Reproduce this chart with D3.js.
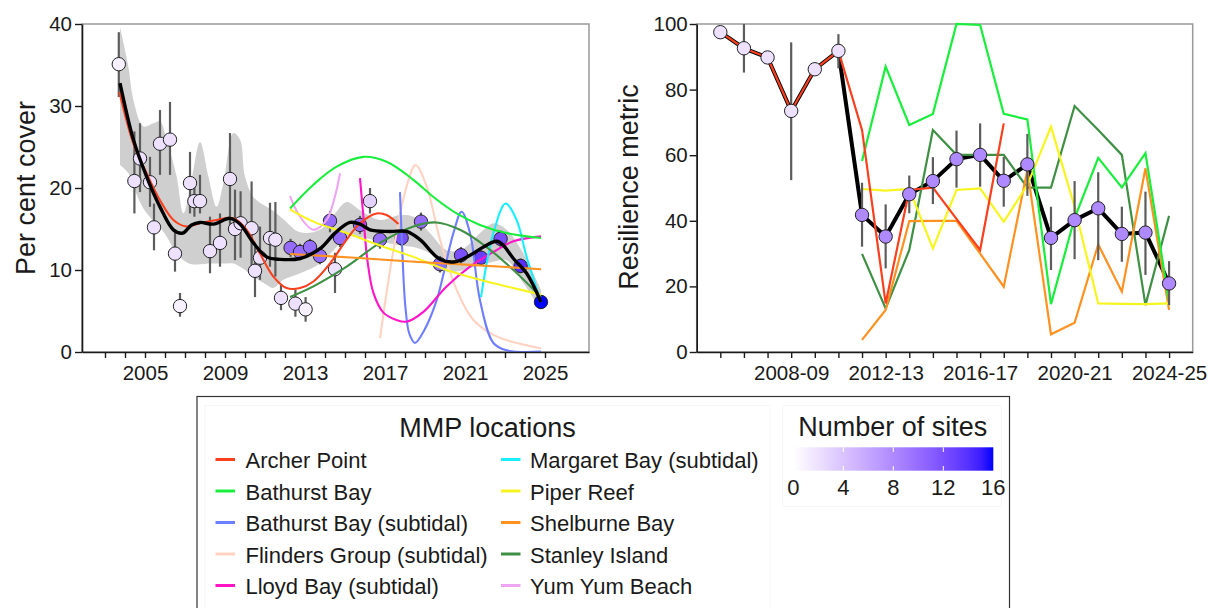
<!DOCTYPE html>
<html>
<head>
<meta charset="utf-8">
<script src="https://cdn.jsdelivr.net/npm/d3@7"></script>
<style>
  body { margin: 0; background: #ffffff; }
  svg text { font-family: "Liberation Sans", Arial, sans-serif; fill: #1a1a1a; }
</style>
</head>
<body>
<svg id="chart" width="1211" height="608"></svg>
<script>
// ---------------- Per cent cover (left panel) ----------------
const surveyYear = [2003.69, 2004.47, 2004.75, 2005.25, 2005.45, 2005.75, 2006.25, 2006.5, 2006.75, 2007.25,
  2007.47, 2007.75, 2008.25, 2008.75, 2009.25, 2009.5, 2009.78, 2010.33, 2010.5, 2010.75,
  2011.25, 2011.52, 2011.8, 2012.28, 2012.52, 2012.75, 2013.03, 2013.25, 2013.75, 2014.25,
  2014.5, 2014.75, 2015.75, 2016.25, 2016.75, 2017.83, 2018.8, 2019.75, 2020.8, 2021.8,
  2022.78, 2023.78, 2024.8];
const coverMean = [35.1, 20.85, 23.6, 20.7, 15.2, 25.4, 25.9, 12.0, 5.6, 20.6,
  18.4, 18.4, 12.3, 13.3, 21.1, 15.0, 15.7, 15.1, 9.9, 11.5,
  13.9, 13.7, 6.6, 12.7, 5.9, 12.2, 5.2, 12.8, 11.7, 16.0,
  10.1, 13.9, 15.5, 18.4, 13.7, 13.9, 15.9, 10.7, 11.8, 11.5,
  13.8, 10.5, 6.1];
const coverLo = [31.1, 16.9, 19.5, 17.7, 12.4, 21.6, 21.6, 9.8, 4.3, 16.9,
  16.5, 16.9, 9.6, 10.4, 14.5, 11.2, 11.5, 10.4, 6.7, 8.8,
  10.4, 9.2, 5.1, 11.6, 4.3, 11.2, 3.7, 11.8, 10.7, 14.6,
  7.2, 12.8, 14.4, 16.9, 12.6, 12.9, 14.8, 9.7, 10.8, 10.6,
  12.8, 9.6, 5.4];
const coverHi = [39.0, 26.9, 27.9, 23.8, 18.1, 29.5, 30.5, 14.5, 7.2, 24.4,
  20.5, 21.6, 16.5, 16.9, 26.7, 19.8, 19.6, 20.8, 12.8, 15.3,
  18.2, 18.3, 8.2, 13.8, 7.6, 13.2, 6.7, 13.8, 12.7, 17.2,
  12.1, 15.0, 16.6, 20.0, 14.8, 14.9, 17.0, 11.7, 12.8, 12.4,
  14.8, 11.4, 6.8];
const coverSites = [1, 2, 2, 2, 2, 2, 2, 2, 1, 2,
  2, 2, 2, 2, 2, 2, 2, 2, 2, 2,
  2, 2, 2, 10, 2, 10, 1, 10, 10, 10,
  2, 10, 10, 3, 10, 12, 10, 10, 12, 13,
  12, 14, 16];

// Overall smoothed trend [year, cover]
const overallTrend = [[2003.75, 32.8], [2004.42, 25.9], [2005.08, 21.4], [2005.75, 17.7], [2006.42, 14.9],
  [2006.88, 14.5], [2007.33, 15.5], [2007.75, 15.8], [2008.42, 15.6], [2009.25, 16.3], [2009.75, 15.6],
  [2010.42, 13.3], [2011.08, 11.6], [2011.75, 11.3], [2012.75, 11.4], [2013.75, 12.6], [2014.5, 14.5],
  [2015.25, 15.8], [2015.75, 15.6], [2016.25, 14.9], [2017.25, 14.7], [2018.08, 14.7], [2018.75, 13.7],
  [2019.75, 11.3], [2020.5, 11.0], [2021.25, 11.8], [2021.92, 12.8], [2022.58, 13.5], [2022.92, 13.0],
  [2023.42, 11.4], [2024.08, 9.6], [2024.8, 6.1]];
// Confidence band of the overall trend [year, lower, upper]
const overallBand = [[2003.75, 22.8, 39.6], [2004.17, 21.8, 34.8], [2004.42, 20.2, 30.7], [2004.92, 17.5, 27.5],
  [2005.42, 16.0, 27.9], [2005.75, 15.2, 28.1], [2006.08, 14.1, 25.9], [2006.58, 12.0, 21.4],
  [2006.92, 11.2, 16.9], [2007.33, 10.7, 21.0], [2007.75, 10.7, 25.6], [2008.17, 10.8, 21.4],
  [2008.58, 10.8, 17.7], [2008.92, 10.8, 20.6], [2009.42, 10.8, 26.7], [2009.75, 10.4, 25.9],
  [2010.0, 10.0, 21.4], [2010.42, 9.2, 18.9], [2011.08, 8.2, 17.7], [2011.42, 7.8, 17.2],
  [2011.92, 8.8, 16.2], [2012.75, 9.6, 14.6], [2013.75, 10.8, 14.9], [2014.5, 12.6, 16.9],
  [2015.08, 14.1, 18.3], [2015.75, 14.0, 17.3], [2016.75, 13.5, 16.1], [2017.75, 13.0, 16.7],
  [2018.42, 12.8, 16.5], [2019.25, 12.0, 14.5], [2020.08, 9.8, 12.4], [2020.92, 10.0, 12.6],
  [2021.75, 10.6, 14.5], [2022.42, 11.0, 15.7], [2023.08, 11.2, 14.9], [2023.92, 8.4, 12.0],
  [2024.8, 5.1, 7.6]];

// Location names and colours (legend order)
const locationNames = ["Archer Point", "Bathurst Bay", "Bathurst Bay (subtidal)", "Flinders Group (subtidal)",
  "Lloyd Bay (subtidal)", "Margaret Bay (subtidal)", "Piper Reef", "Shelburne Bay", "Stanley Island", "Yum Yum Beach"];
const locationColours = ["#f9401e", "#1aee3c", "#6f7dff", "#ffd2c2", "#ff14c8", "#1aeeff", "#f7f520", "#ff9120", "#3f9045", "#eea6f2"];

// Per-location smoothed cover trends [year, cover]
const trendArcher = [[2003.72, 31.7], [2004.42, 25.4], [2005.08, 21.8], [2005.75, 18.5], [2006.42, 16.1], [2007.08, 15.3],
  [2007.75, 15.7], [2008.58, 16.1], [2009.42, 16.3], [2010.08, 14.9], [2010.75, 12.0], [2011.42, 9.2], [2012.08, 7.8],
  [2012.75, 7.8], [2013.42, 8.6], [2014.25, 10.8], [2015.08, 13.7], [2015.75, 15.7], [2016.58, 16.9], [2017.08, 16.7], [2017.67, 15.6]];
const trendBathurst = [[2012.25, 17.5], [2013.42, 20.4], [2014.58, 22.6], [2015.92, 23.8], [2017.08, 23.2], [2018.42, 21.0],
  [2019.42, 18.9], [2020.58, 16.9], [2021.75, 15.5], [2023.08, 14.5], [2024.8, 13.9]];
const trendBathurstSub = [[2017.75, 19.5], [2017.87, 12.0], [2018.02, 5.5], [2018.22, 2.2], [2018.5, 1.1], [2018.95, 2.6],
  [2019.58, 6.3], [2020.42, 14.5], [2020.83, 17.1], [2021.25, 14.5], [2021.75, 6.3], [2022.42, 1.1], [2023.08, 0.2], [2024.8, 0.05]];
const trendFlinders = [[2016.75, 1.7], [2017.42, 12.4], [2018.08, 20.2], [2018.53, 22.8], [2019.08, 20.2], [2019.75, 13.7],
  [2020.58, 7.6], [2021.42, 3.9], [2022.58, 1.9], [2024.8, 0.45]];
const trendLloyd = [[2015.75, 21.2], [2015.92, 16.5], [2016.12, 11.2], [2016.42, 7.2], [2016.92, 4.8], [2017.58, 3.9],
  [2018.08, 3.7], [2018.92, 4.9], [2020.08, 8.0], [2021.25, 10.4], [2022.42, 12.2], [2023.42, 13.5], [2024.8, 14.1]];
const trendMargaret = [[2021.8, 6.7], [2022.42, 14.5], [2023.03, 18.1], [2023.58, 16.1], [2024.08, 11.6], [2024.8, 6.1]];
const trendPiper = [[2012.25, 17.4], [2013.42, 15.9], [2015.08, 14.5], [2016.75, 13.0], [2018.42, 11.6], [2020.08, 10.0],
  [2021.75, 8.8], [2023.42, 7.8], [2024.8, 7.0]];
const trendShelburne = [[2012.25, 11.95], [2015.5, 11.5], [2018.5, 11.0], [2021.5, 10.6], [2024.8, 10.1]];
const trendStanley = [[2012.25, 6.7], [2013.42, 8.0], [2015.08, 10.4], [2016.75, 13.3], [2018.42, 15.3], [2019.58, 15.8],
  [2020.75, 14.9], [2022.08, 12.8], [2023.42, 10.0], [2024.8, 6.7]];
const trendYumYum = [[2012.25, 19.0], [2012.75, 16.5], [2013.42, 14.9], [2014.08, 16.1], [2014.5, 19.0], [2014.75, 21.8]];

// ---------------- Resilience metric (right panel) ----------------
const financialYears = ["2005-06", "2006-07", "2007-08", "2008-09", "2009-10", "2010-11", "2011-12", "2012-13",
  "2013-14", "2014-15", "2015-16", "2016-17", "2017-18", "2018-19", "2019-20", "2020-21", "2021-22", "2022-23",
  "2023-24", "2024-25"];
const yearLabels = ["2008-09", "2012-13", "2016-17", "2020-21", "2024-25"];
const resMean = [97.5, 92.6, 89.8, 73.5, 86.2, 91.8, 41.8, 35.2, 48.1, 52.1, 58.8, 60.1, 52.2, 57.2, 34.8, 40.2, 43.8, 36.0, 36.4, 20.9];
const resLo = [95.6, 85.2, null, 52.4, null, 86.5, 32.1, 25.5, 42.3, 45.1, 50.1, 50.4, 44.3, 47.6, 25.0, 28.3, 28.0, 27.5, 23.5, 14.3];
const resHi = [99.3, 100, null, 94.4, null, 96.9, 51.6, 45.0, 53.8, 59.4, 67.5, 69.7, 59.5, 66.5, 44.3, 52.1, 54.8, 44.3, 48.9, 27.7];
const resSites = [2, 2, 2, 2, 2, 2, 8, 8, 8, 8, 8, 8, 8, 8, 8, 8, 8, 8, 8, 8];

const resArcher = [97.5, 92.6, 89.8, 73.5, 86.2, 91.8, 67.7, 14.8, 49.4, 50.1, 40.6, 31.1, 69.7, null, null, null, null, null, null, null];
const resBathurst = [null, null, null, null, null, null, 58.2, 87.0, 69.2, 72.6, 100, 99.7, 72.6, 70.9, 14.6, 40.8, 59.2, 50.2, 60.6, 15.3];
const resPiper = [null, null, null, null, null, null, 49.7, 49.2, 49.7, 31.6, 49.4, 49.9, 39.7, 50.9, 68.7, 44.3, 14.8, 14.7, 14.6, 14.8];
const resShelburne = [null, null, null, null, null, null, 3.7, 12.8, 39.9, 40.0, 40.0, 30.0, 19.9, 55.5, 5.4, 8.9, 32.8, 18.4, 56.0, 12.8];
const resStanley = [null, null, null, null, null, null, 29.9, 13.3, 31.1, 67.7, 60.1, 60.1, 60.1, 50.1, 50.1, 75.0, 67.7, 60.1, 14.3, 41.5];

// ---------------- Drawing ----------------
const svg = d3.select("#chart");
const ink = "#1a1a1a";
const siteColour = d3.scaleLinear().domain([0, 16]).range(["#ffffff", "#0000ff"]).interpolate(d3.interpolateLab);
const colourOf = name => locationColours[locationNames.indexOf(name)];

function frame(g, b) {
  g.append("rect").attr("x", b.left).attr("y", b.top)
    .attr("width", b.right - b.left).attr("height", b.bottom - b.top)
    .attr("fill", "none").attr("stroke", "#9a9a9a").attr("stroke-width", 1.5);
}
function styleAxis(a) {
  a.select(".domain").attr("stroke", ink).attr("stroke-width", 1.6);
  a.selectAll(".tick line").attr("stroke", ink).attr("stroke-width", 1.4);
  a.selectAll(".tick text").attr("font-size", "20.5px").attr("fill", ink)
    .attr("font-family", "'Liberation Sans', Arial, sans-serif");
}

// ---- left panel ----
const L = { left: 82, right: 589, top: 24, bottom: 352 };
const xL = d3.scaleLinear().domain([2001.85, 2027.2]).range([L.left, L.right]);
const yL = d3.scaleLinear().domain([0, 40]).range([L.bottom, L.top]);
const gL = svg.append("g");
frame(gL, L);

gL.append("path").datum(overallBand)
  .attr("fill", "#cfcfcf")
  .attr("d", d3.area().curve(d3.curveCatmullRom.alpha(0.5))
    .x(d => xL(d[0])).y0(d => yL(d[1])).y1(d => yL(d[2])));

gL.append("g").selectAll("line").data(surveyYear).join("line")
  .attr("x1", d => xL(d)).attr("x2", d => xL(d))
  .attr("y1", (d, i) => yL(coverLo[i])).attr("y2", (d, i) => yL(coverHi[i]))
  .attr("stroke", "#5c5c5c").attr("stroke-width", 2.2);

gL.append("g").selectAll("circle").data(surveyYear).join("circle")
  .attr("cx", d => xL(d)).attr("cy", (d, i) => yL(coverMean[i])).attr("r", 6.7)
  .attr("fill", (d, i) => siteColour(coverSites[i]))
  .attr("stroke", "#222").attr("stroke-width", 1);

const trendLine = d3.line().curve(d3.curveCatmullRom.alpha(0.5)).x(d => xL(d[0])).y(d => yL(d[1]));
const leftTrends = [
  ["Flinders Group (subtidal)", trendFlinders],
  ["Bathurst Bay (subtidal)", trendBathurstSub],
  ["Lloyd Bay (subtidal)", trendLloyd],
  ["Margaret Bay (subtidal)", trendMargaret],
  ["Yum Yum Beach", trendYumYum],
  ["Bathurst Bay", trendBathurst],
  ["Stanley Island", trendStanley],
  ["Piper Reef", trendPiper],
  ["Shelburne Bay", trendShelburne],
  ["Archer Point", trendArcher]
];
leftTrends.forEach(([name, pts]) => {
  gL.append("path").datum(pts).attr("d", trendLine)
    .attr("fill", "none").attr("stroke", colourOf(name)).attr("stroke-width", 2.1);
});
gL.append("path").datum(overallTrend).attr("d", trendLine)
  .attr("fill", "none").attr("stroke", "#000").attr("stroke-width", 3.4);

const axL = gL.append("g").attr("transform", `translate(${L.left},0)`)
  .call(d3.axisLeft(yL).tickValues([0, 10, 20, 30, 40]).tickSize(7).tickSizeOuter(0).tickPadding(3));
styleAxis(axL);
const axB = gL.append("g").attr("transform", `translate(0,${L.bottom})`)
  .call(d3.axisBottom(xL).tickValues(d3.range(2003, 2026)).tickSize(6).tickSizeOuter(0).tickPadding(7)
    .tickFormat(d => (d - 2005) % 4 === 0 ? String(d) : ""));
styleAxis(axB);

gL.append("text").attr("transform", "translate(35,188) rotate(-90)")
  .attr("text-anchor", "middle").attr("font-size", "27px").text("Per cent cover");

// ---- right panel ----
const R = { left: 696.7, right: 1192.7, top: 24, bottom: 352 };
const xR = d3.scalePoint().domain(financialYears).range([R.left, R.right]).padding(1);
const yR = d3.scaleLinear().domain([0, 100]).range([R.bottom, R.top]);
const gR = svg.append("g");
frame(gR, R);

const resLine = d3.line().defined(d => d[1] !== null).x(d => xR(d[0])).y(d => yR(d[1]));
const pairs = vals => financialYears.map((fy, i) => [fy, vals[i]]);

gR.append("path").datum(pairs(resMean)).attr("d", resLine)
  .attr("fill", "none").attr("stroke", "#000").attr("stroke-width", 4).attr("stroke-linejoin", "round");

const rightSeries = [
  ["Stanley Island", resStanley],
  ["Shelburne Bay", resShelburne],
  ["Piper Reef", resPiper],
  ["Bathurst Bay", resBathurst],
  ["Archer Point", resArcher]
];
rightSeries.forEach(([name, vals]) => {
  gR.append("path").datum(pairs(vals)).attr("d", resLine)
    .attr("fill", "none").attr("stroke", colourOf(name)).attr("stroke-width", 2.2);
});

gR.append("g").selectAll("line").data(financialYears.filter((fy, i) => resLo[i] !== null)).join("line")
  .attr("x1", d => xR(d)).attr("x2", d => xR(d))
  .attr("y1", d => yR(resLo[financialYears.indexOf(d)]))
  .attr("y2", d => yR(resHi[financialYears.indexOf(d)]))
  .attr("stroke", "#5c5c5c").attr("stroke-width", 2.2);

gR.append("g").selectAll("circle").data(financialYears).join("circle")
  .attr("cx", d => xR(d)).attr("cy", (d, i) => yR(resMean[i])).attr("r", 6.7)
  .attr("fill", (d, i) => siteColour(resSites[i]))
  .attr("stroke", "#222").attr("stroke-width", 1);

const axRL = gR.append("g").attr("transform", `translate(${R.left},0)`)
  .call(d3.axisLeft(yR).tickValues([0, 20, 40, 60, 80, 100]).tickSize(7).tickSizeOuter(0).tickPadding(2));
styleAxis(axRL);
const axRB = gR.append("g").attr("transform", `translate(0,${R.bottom})`)
  .call(d3.axisBottom(xR).tickSize(6).tickSizeOuter(0).tickPadding(7)
    .tickFormat(d => yearLabels.includes(d) ? d : ""));
styleAxis(axRB);

gR.append("text").attr("transform", "translate(638,187) rotate(-90)")
  .attr("text-anchor", "middle").attr("font-size", "27px").text("Resilience metric");

// ---- legend ----
const gLeg = svg.append("g");
gLeg.append("rect").attr("x", 197).attr("y", 396.5).attr("width", 812.5).attr("height", 220)
  .attr("fill", "#fff").attr("stroke", "#333").attr("stroke-width", 1.2);
gLeg.append("rect").attr("x", 205).attr("y", 405.5).attr("width", 565).attr("height", 210)
  .attr("fill", "none").attr("stroke", "#f6f6f6");
gLeg.append("rect").attr("x", 782.5).attr("y", 405.5).attr("width", 219).attr("height", 101)
  .attr("fill", "none").attr("stroke", "#f6f6f6");

gLeg.append("text").attr("x", 487.5).attr("y", 436.5).attr("text-anchor", "middle")
  .attr("font-size", "27px").text("MMP locations");

const rowY = [459.5, 491, 522.5, 554, 585.5];
locationNames.forEach((name, i) => {
  const col = i < 5 ? 0 : 1;
  const row = i % 5;
  const kx = col === 0 ? 215.5 : 501;
  const tx = col === 0 ? 245.5 : 530;
  gLeg.append("line").attr("x1", kx).attr("x2", kx + 19.5)
    .attr("y1", rowY[row]).attr("y2", rowY[row])
    .attr("stroke", locationColours[i]).attr("stroke-width", 3);
  gLeg.append("text").attr("x", tx).attr("y", rowY[row] + 8.5)
    .attr("font-size", "22px").text(name);
});

// colour bar for number of sites
gLeg.append("text").attr("x", 892.7).attr("y", 435.5).attr("text-anchor", "middle")
  .attr("font-size", "27px").text("Number of sites");
const barX = d3.scaleLinear().domain([0, 16]).range([793.3, 993.3]);
const grad = svg.append("defs").append("linearGradient").attr("id", "sitesGradient")
  .attr("x1", "0%").attr("x2", "100%").attr("y1", "0%").attr("y2", "0%");
d3.range(0, 16.01, 1).forEach(v => {
  grad.append("stop").attr("offset", `${(v / 16) * 100}%`).attr("stop-color", siteColour(v));
});
gLeg.append("rect").attr("x", barX(0)).attr("y", 447.3).attr("width", barX(16) - barX(0)).attr("height", 23.4)
  .attr("fill", "url(#sitesGradient)");
[4, 8, 12].forEach(v => {
  gLeg.append("line").attr("x1", barX(v)).attr("x2", barX(v)).attr("y1", 447.3).attr("y2", 452)
    .attr("stroke", "#fff").attr("stroke-width", 1);
  gLeg.append("line").attr("x1", barX(v)).attr("x2", barX(v)).attr("y1", 466).attr("y2", 470.7)
    .attr("stroke", "#fff").attr("stroke-width", 1);
});
[0, 4, 8, 12, 16].forEach(v => {
  gLeg.append("text").attr("x", barX(v)).attr("y", 495).attr("text-anchor", "middle")
    .attr("font-size", "22px").text(v);
});
</script>
</body>
</html>
